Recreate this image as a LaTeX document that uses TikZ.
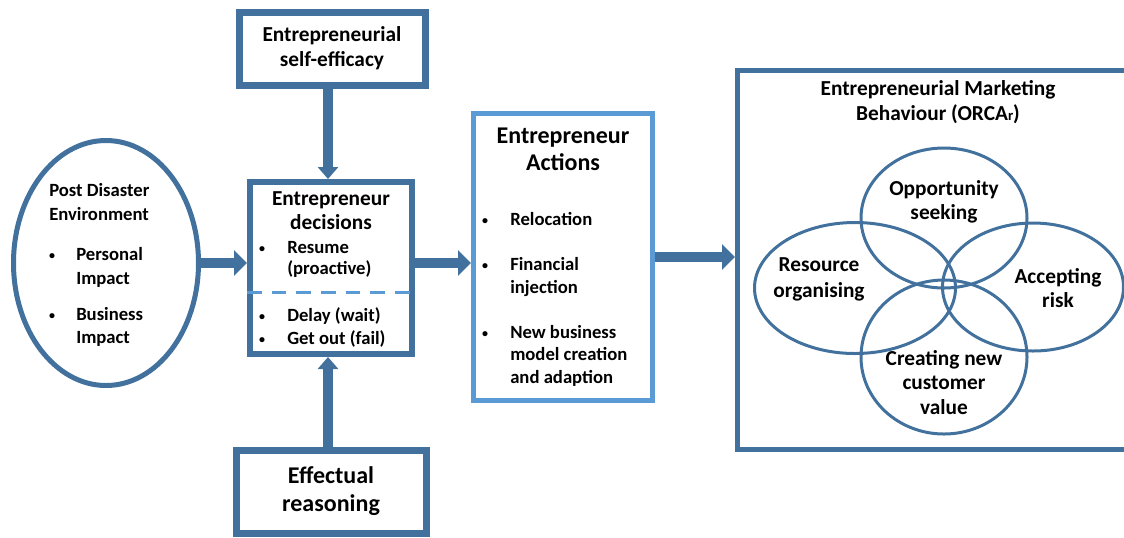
\documentclass[tikz,border=0pt]{standalone}
\usepackage{fontspec}
\setmainfont{Carlito}
\usetikzlibrary{arrows.meta,shapes.geometric}
\definecolor{darkblue}{HTML}{41719C}
\definecolor{lightblue}{HTML}{5B9BD5}
\begin{document}
\begin{tikzpicture}
[x=0.75pt,y=-0.75pt,
  boxdecorate/.style={shape=rectangle,draw=darkblue,line width=4.5pt,inner sep=0pt},%
  ovaldecorate/.style={shape=ellipse,draw=darkblue,line width=2.25pt,inner sep=0pt},%
  textdecorate/.style={inner sep=0pt,font=\bfseries\fontsize{16}{19}\selectfont},%
  listdecorate/.style={inner sep=0pt,font=\bfseries\fontsize{14}{17}\selectfont},%
  bigdecorate/.style={inner sep=0pt,font=\bfseries\fontsize{18}{21}\selectfont},%
  arrowdecorate/.style={-{Triangle[width=18.75pt,length=9.75pt]},draw=darkblue,line width=7.5pt},%
  uparrowdecorate/.style={-{Triangle[width=15pt,length=9pt]},draw=darkblue,line width=7pt}]
\useasboundingbox (0,0) rectangle (1124,537);
%% boxes
\node (env) at (106,263) [ovaldecorate,line width=3.75pt,minimum width=185*0.75pt,minimum height=245*0.75pt] {};
\node (dec) at (331,268) [boxdecorate,minimum width=162*0.75pt,minimum height=172*0.75pt] {};
\node (eff) at (332,49) [boxdecorate,line width=5.25pt,minimum width=186*0.75pt,minimum height=73*0.75pt] {};
\node (rea) at (331.5,492) [boxdecorate,line width=5.25pt,minimum width=190*0.75pt,minimum height=83*0.75pt] {};
\node (act) at (563,257) [boxdecorate,draw=lightblue,line width=3.75pt,minimum width=179*0.75pt,minimum height=287*0.75pt] {};
\node (emb) at (939,260) [boxdecorate,line width=3.75pt,minimum width=403*0.75pt,minimum height=379*0.75pt] {};
\draw[lightblue,line width=2.25pt,dash pattern=on 11pt off 7.5pt] (dec.west |- 0,292) -- (dec.east |- 0,292);
%% venn ovals
\foreach \nodename/\x/\y/\w/\h in {opp/944/218/166/140, res/855/288/201/131,
    acc/1033/287/181/128, crv/944/357/166/154} {
  \node (\nodename) at (\x,\y) [ovaldecorate,minimum width=\w*0.75pt,minimum height=\h*0.75pt] {};
}
%% centred texts
\foreach \nodename/\x/\y/\txt in {effa/332/38/Entrepreneurial, effb/332/63/self-efficacy,
    deca/331/202/Entrepreneur, decb/331/226/decisions,
    emba/938/92/Entrepreneurial Marketing, embb/938/117/{Behaviour (ORCA{\fontsize{11}{11}\selectfont r})},
    oppa/944/192/Opportunity, oppb/944/216/seeking,
    resa/819/268/Resource, resb/819/294/organising,
    acca/1058/280/Accepting, accb/1058/304/risk,
    crva/944/362/Creating new, crvb/944/386/customer, crvc/944/411/value} {
  \node (\nodename) at (\x,\y) [textdecorate,anchor=mid] {\txt};
}
\foreach \nodename/\x/\y/\txt in {acta/563/140/Entrepreneur, actb/563/167/Actions,
    reaa/331/480/Effectual, reab/331/508/reasoning} {
  \node (\nodename) at (\x,\y) [bigdecorate,anchor=mid] {\txt};
}
%% left aligned texts
\foreach \nodename/\x/\y/\txt in {enva/49/193/Post Disaster, envb/49/217/Environment,
    envc/76/257/Personal, envd/76/281/Impact, enve/76/317/Business, envf/76/340/Impact,
    decc/287/250/Resume, decd/287/271/(proactive), dece/287/318/Delay (wait), decf/287/341/Get out (fail),
    actc/510/222/Relocation, actd/510/267/Financial, acte/510/290/injection,
    actf/510/335/New business, actg/510/357/model creation, acth/510/380/and adaption} {
  \node (\nodename) at (\x,\y) [listdecorate,anchor=mid west] {\txt};
}
%% bullets
\foreach \nodename/\x/\y in {bula/52/257, bulb/52/317, bulc/262/250, buld/262/318, bule/262/341,
    bulf/485/222, bulg/485/267, bulh/485/335} {
  \node (\nodename) at (\x,\y) [listdecorate,font=\bfseries\fontsize{9}{9}\selectfont,anchor=center] {\textbullet};
}
%% arrows
\path (env.east) edge[arrowdecorate] (env.east -| dec.west)
  (env.east -| dec.east) edge[arrowdecorate] (env.east -| act.west)
  (act.east) edge[arrowdecorate] (act.east -| emb.west)
  (eff.south -| 328,0) edge[uparrowdecorate] (dec.north -| 328,0)
  (rea.north -| 328,0) edge[uparrowdecorate] (dec.south -| 328,0);
\end{tikzpicture}
\end{document}
